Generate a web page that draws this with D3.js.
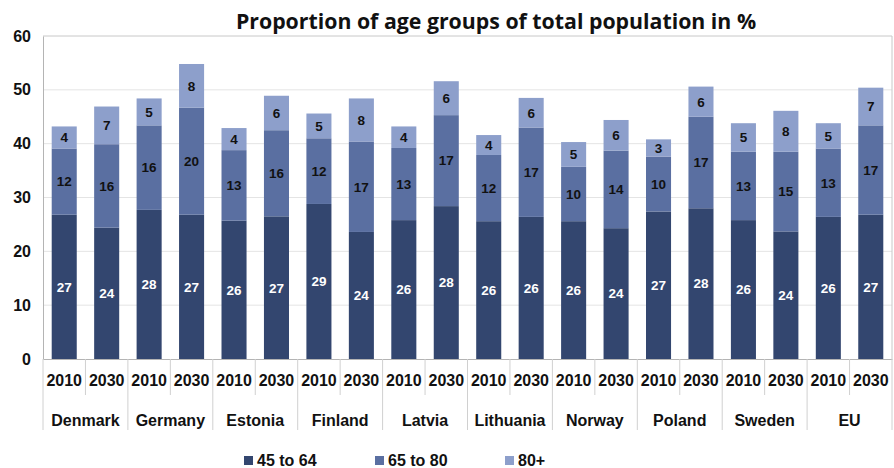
<!DOCTYPE html>
<html><head><meta charset="utf-8">
<script src="https://cdn.jsdelivr.net/npm/d3@7"></script>
<style>body{margin:0;background:#fff}svg{display:block}</style>
</head><body>
<svg id="c" width="894" height="468"></svg>
<script>
const countries = ["Denmark","Germany","Estonia","Finland","Latvia","Lithuania","Norway","Poland","Sweden","EU"];
const years = ["2010","2030"];
const seriesNames = ["45 to 64","65 to 80","80+"];
// values in order: Denmark 2010, Denmark 2030, Germany 2010, ...
const age45to64 = [26.8,24.4,27.7,26.8,25.7,26.5,28.8,23.6,25.8,28.4,25.6,26.4,25.6,24.3,27.4,28.0,25.8,23.7,26.4,26.8];
const age65to80 = [12.3,15.5,15.7,19.9,13.1,16.0,12.2,16.8,13.4,16.9,12.3,16.6,10.1,14.4,10.2,17.0,12.7,14.8,12.7,16.6];
const age80plus = [4.1,7.0,5.0,8.1,4.1,6.4,4.6,8.0,4.0,6.3,3.7,5.5,4.6,5.7,3.2,5.6,5.3,7.6,4.7,7.0];
const yTicks = [0,10,20,30,40,50,60];
const titleText = "Proportion of age groups of total population in %";

const colors = ["#33466f","#5a6fa1","#8d9fcb"];
const svg = d3.select("#c");
const m = {l:43, r:892, t:36, b:359};

const rows = [];
countries.forEach((c,ci)=>years.forEach((y,yi)=>{
  const i = ci*2+yi;
  rows.push({key:c+"|"+y, country:c, year:y, s0:age45to64[i], s1:age65to80[i], s2:age80plus[i]});
}));

const x = d3.scaleBand().domain(rows.map(d=>d.key)).range([m.l,m.r]).paddingInner(0.41).paddingOuter(0.205);
const y = d3.scaleLinear().domain([0,60]).range([m.b,m.t]);

// gridlines
svg.append("g").selectAll("line").data(yTicks.filter(t=>t>0)).join("line")
  .attr("x1",m.l).attr("x2",m.r).attr("y1",d=>y(d)).attr("y2",d=>y(d))
  .attr("stroke",d=>d===60?"#c8c8c8":"#e4e4e4").attr("stroke-width",1);
// right border
svg.append("line").attr("x1",m.r).attr("x2",m.r).attr("y1",m.t).attr("y2",m.b).attr("stroke","#c8c8c8");

const stack = d3.stack().keys(["s0","s1","s2"])(rows);

const g = svg.append("g");
stack.forEach((layer,li)=>{
  g.append("g").selectAll("rect").data(layer).join("rect")
    .attr("x",d=>x(d.data.key)).attr("width",x.bandwidth())
    .attr("y",d=>y(d[1])).attr("height",d=>y(d[0])-y(d[1]))
    .attr("fill",colors[li]);
  g.append("g").selectAll("text").data(layer).join("text")
    .attr("x",d=>x(d.data.key)+x.bandwidth()/2)
    .attr("y",d=>(y(d[0])+y(d[1]))/2)
    .attr("dy","0.36em").attr("text-anchor","middle")
    .attr("font-family","Liberation Sans, Arial, sans-serif").attr("font-weight","bold").attr("font-size",13.5)
    .attr("fill",li===0?"#ffffff":"#111111")
    .text(d=>Math.round(d[1]-d[0]));
});

// y axis
const yAxis = d3.axisLeft(y).tickValues(yTicks).tickSize(0).tickPadding(12);
const ya = svg.append("g").attr("transform",`translate(${m.l},0)`).call(yAxis);
ya.select(".domain").attr("stroke","#b4b4b4");
ya.selectAll("text").attr("font-family","Liberation Sans, Arial, sans-serif").attr("font-weight","bold").attr("font-size",16).attr("fill","#111");

// x axis: years
const xAxis = d3.axisBottom(x).tickSize(0).tickPadding(0).tickFormat(k=>k.split("|")[1]);
const xa = svg.append("g").attr("transform",`translate(0,${m.b})`).call(xAxis);
xa.select(".domain").attr("stroke","#b4b4b4");
xa.selectAll("text").attr("y",27).attr("dy",0).attr("font-family","Liberation Sans, Arial, sans-serif").attr("font-weight","bold").attr("font-size",16).attr("fill","#111");

// separators
const step = x.step();
const sepG = svg.append("g").attr("stroke","#d0d0d0");
d3.range(rows.length+1).forEach(i=>{
  const xx = m.l + i*step;
  const isCountry = i%2===0;
  sepG.append("line").attr("x1",xx).attr("x2",xx).attr("y1",m.b).attr("y2",isCountry?430:395);
});

// country labels
svg.append("g").selectAll("text").data(countries).join("text")
  .attr("x",(d,i)=>m.l+(i*2+1)*step).attr("y",426).attr("text-anchor","middle")
  .attr("font-family","Liberation Sans, Arial, sans-serif").attr("font-weight","bold").attr("font-size",16).attr("fill","#111")
  .text(d=>d);

// title
svg.append("text").attr("x",496).attr("y",29).attr("text-anchor","middle")
  .attr("font-family","Open Sans, sans-serif").attr("font-weight","bold").attr("font-size",21.3).attr("fill","#111")
  .text(titleText);

// legend
const legX = [244,375,505];
const lg = svg.append("g");
seriesNames.forEach((n,i)=>{
  lg.append("rect").attr("x",legX[i]).attr("y",456).attr("width",9).attr("height",9).attr("fill",colors[i]);
  lg.append("text").attr("x",legX[i]+13).attr("y",466)
    .attr("font-family","Liberation Sans, Arial, sans-serif").attr("font-weight","bold").attr("font-size",16).attr("fill","#111")
    .text(n);
});
</script>
</body></html>
